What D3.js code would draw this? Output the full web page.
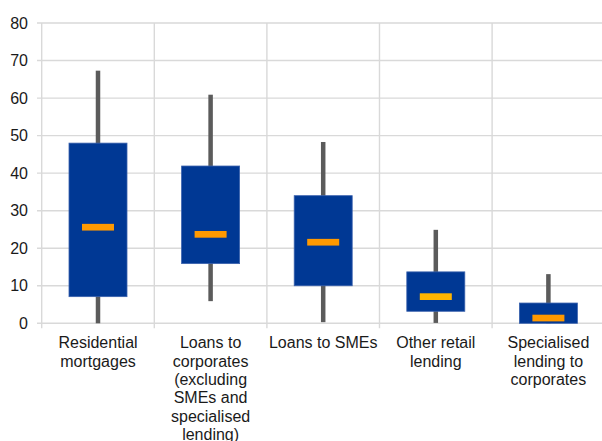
<!DOCTYPE html>
<html>
<head>
<meta charset="utf-8">
<script src="https://cdn.jsdelivr.net/npm/d3@7"></script>
<style>
  html, body { margin: 0; padding: 0; background: #fff; }
  svg { display: block; }
  text { font-family: "Liberation Sans", Arial, sans-serif; fill: #1a1a1a; }
</style>
</head>
<body>
<svg id="chart" width="602" height="441"></svg>
<script>
// ---- data ----
const categories = [
  "Residential mortgages",
  "Loans to corporates (excluding SMEs and specialised lending)",
  "Loans to SMEs",
  "Other retail lending",
  "Specialised lending to corporates"
];
const whiskerLow  = [0,    5.9,  0.3,  0.1, 0];
const boxLow      = [7.1,  15.9, 10.0, 3.2, 0];
const medianVals  = [25.6, 23.7, 21.6, 7.1, 1.4];
const boxHigh     = [48.0, 41.9, 34.0, 13.7, 5.4];
const whiskerHigh = [67.3, 60.9, 48.3, 24.9, 13.1];
const yTicks      = [0, 10, 20, 30, 40, 50, 60, 70, 80];

// ---- styles ----
const medianColors = ["#FF9900", "#FF9900", "#FF9900", "#FFB400", "#FF9900"];

const svg = d3.select("#chart");
const x = d3.scaleBand().domain(categories).range([41.7, 604.7]).paddingInner(0).paddingOuter(0);
const y = d3.scaleLinear().domain([0, 80]).range([323.3, 23]);

const grid = svg.append("g");
// horizontal gridlines (with left tick stubs)
grid.selectAll("line.h").data(yTicks).enter().append("line")
  .attr("x1", 37).attr("x2", 604.7)
  .attr("y1", d => y(d)).attr("y2", d => y(d))
  .attr("stroke", "#d9d9d9").attr("stroke-width", 1.4);
// vertical gridlines (category separators, with tick stubs below)
const seps = categories.map(c => x(c)).concat([x.range()[1]]);
grid.selectAll("line.v").data(seps).enter().append("line")
  .attr("x1", d => d).attr("x2", d => d)
  .attr("y1", y(80)).attr("y2", y(0) + 5)
  .attr("stroke", "#d9d9d9").attr("stroke-width", 1.4);

// y labels
svg.append("g").selectAll("text").data(yTicks).enter().append("text")
  .attr("x", 28).attr("y", d => y(d)).attr("dy", "0.35em")
  .attr("text-anchor", "end").attr("font-size", 16)
  .text(d => d);

const idx = d3.range(categories.length);
const cx = i => x(categories[i]) + x.bandwidth() / 2;
const boxW = 58, whW = 4.5, medW = 32, medH = 6.7;

// whiskers
svg.append("g").selectAll("rect").data(idx).enter().append("rect")
  .attr("x", i => cx(i) - whW / 2)
  .attr("width", whW)
  .attr("y", i => y(whiskerHigh[i]))
  .attr("height", i => y(whiskerLow[i]) - y(whiskerHigh[i]))
  .attr("fill", "#5b5b5b");

// boxes
svg.append("g").selectAll("rect").data(idx).enter().append("rect")
  .attr("x", i => cx(i) - boxW / 2)
  .attr("width", boxW)
  .attr("y", i => y(boxHigh[i]))
  .attr("height", i => y(boxLow[i]) - y(boxHigh[i]))
  .attr("fill", "#003894")
  .attr("stroke", "#3a62ad").attr("stroke-width", 0.8);

// medians
svg.append("g").selectAll("rect").data(idx).enter().append("rect")
  .attr("x", i => cx(i) - medW / 2)
  .attr("width", medW)
  .attr("y", i => y(medianVals[i]) - medH / 2)
  .attr("height", medH)
  .attr("fill", i => medianColors[i]);

// x labels with wrapping
const lblG = svg.append("g");
const maxW = 110, lineH = 18.3;
categories.forEach((c, i) => {
  const t = lblG.append("text")
    .attr("x", cx(i)).attr("y", 348.3)
    .attr("text-anchor", "middle").attr("font-size", 16);
  const words = c.split(" ");
  let lines = [], cur = [];
  const probe = t.append("tspan");
  words.forEach(w => {
    const test = cur.concat([w]).join(" ");
    probe.text(test);
    if (probe.node().getComputedTextLength() > maxW && cur.length) {
      lines.push(cur.join(" "));
      cur = [w];
    } else {
      cur.push(w);
    }
  });
  if (cur.length) lines.push(cur.join(" "));
  probe.remove();
  lines.forEach((l, k) => {
    t.append("tspan").attr("x", cx(i)).attr("y", 348.3 + k * lineH).text(l);
  });
});
</script>
</body>
</html>
